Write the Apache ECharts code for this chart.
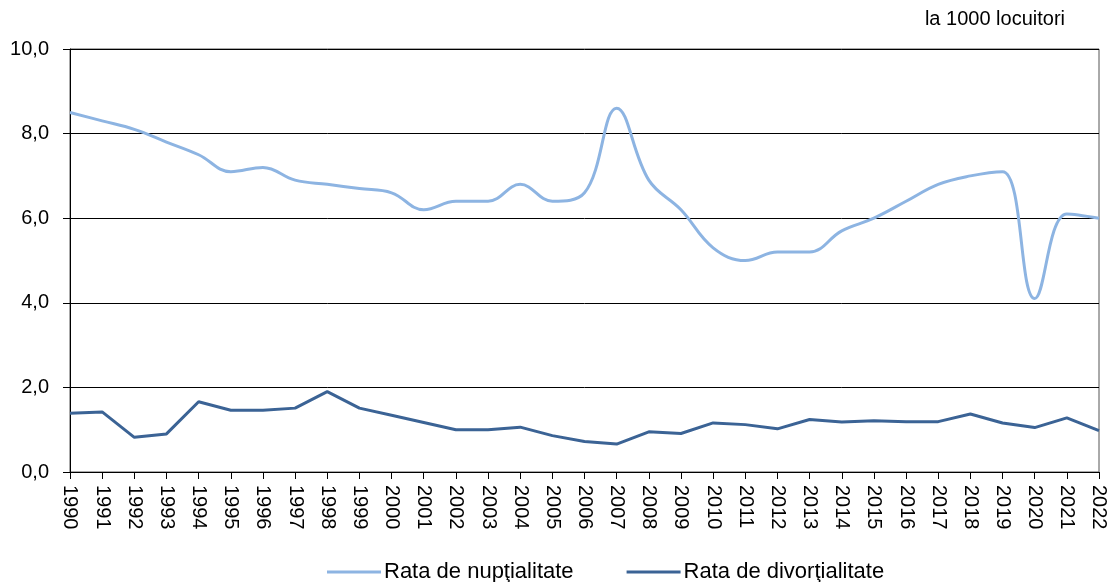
<!DOCTYPE html>
<html>
  <head>
    <meta charset="utf-8" />
    <title>Nuptialitate si divortialitate</title>
    <script src="https://cdn.jsdelivr.net/npm/echarts@6/dist/echarts.min.js"></script>
    <style>
      html, body { margin: 0; padding: 0; background: #fff; }
    </style>
  </head>
  <body>
    <div id="main" style="width: 1111px; height: 582px"></div>
    <script type="text/javascript">
      // anii de pe axa orizontala
      var years = [
        "1990", "1991", "1992", "1993", "1994", "1995", "1996", "1997", "1998", "1999",
        "2000", "2001", "2002", "2003", "2004", "2005", "2006", "2007", "2008", "2009",
        "2010", "2011", "2012", "2013", "2014", "2015", "2016", "2017", "2018", "2019",
        "2020", "2021", "2022"
      ];

      // la 1000 locuitori
      var nuptialitate = [
        8.5, 8.3, 8.1, 7.8, 7.5, 7.1, 7.2, 6.9, 6.8, 6.7,
        6.6, 6.2, 6.4, 6.4, 6.8, 6.4, 6.6, 8.6, 6.9, 6.2,
        5.3, 5.0, 5.2, 5.2, 5.7, 6.0, 6.4, 6.8, 7.0, 7.1,
        4.1, 6.1, 6.0
      ];

      var divortialitate = [
        1.39, 1.42, 0.82, 0.90, 1.66, 1.46, 1.46, 1.51, 1.90, 1.51,
        1.34, 1.17, 1.00, 1.00, 1.06, 0.86, 0.72, 0.66, 0.95, 0.91,
        1.16, 1.12, 1.02, 1.24, 1.18, 1.21, 1.19, 1.19, 1.37, 1.16,
        1.05, 1.28, 0.98
      ];

      var seriesNames = ["Rata de nupţialitate", "Rata de divorţialitate"];

      var font = "Liberation Sans";

      var myChart = echarts.init(document.getElementById("main"), null, {
        renderer: "canvas"
      });

      var option = {
        animation: false,
        textStyle: { fontFamily: font },
        graphic: [
          {
            type: "text",
            right: 46,
            top: 9,
            style: {
              text: "la 1000 locuitori",
              font: "20px " + font,
              fill: "#000"
            }
          }
        ],
        legend: {
          top: 561,
          left: 327,
          padding: 0,
          itemWidth: 54,
          itemHeight: 3,
          itemGap: 53,
          icon: "rect",
          textStyle: { fontSize: 22, color: "#000", fontFamily: font, padding: [0, 0, 0, -2] },
          data: seriesNames
        },
        grid: {
          left: 70,
          right: 12,
          top: 49,
          bottom: 110,
          show: true,
          borderColor: "#555",
          borderWidth: 1
        },
        xAxis: {
          type: "category",
          data: years,
          boundaryGap: false,
          axisLine: { lineStyle: { color: "#000", width: 1 } },
          axisTick: { alignWithLabel: true, length: 7, lineStyle: { color: "#000" } },
          axisLabel: {
            rotate: -90,
            interval: 0,
            margin: 13,
            color: "#000",
            fontSize: 20,
            fontFamily: font
          }
        },
        yAxis: {
          type: "value",
          min: 0,
          max: 10,
          interval: 2,
          axisLine: { show: true, lineStyle: { color: "#000", width: 1 } },
          axisTick: { show: true, length: 7, lineStyle: { color: "#000" } },
          splitLine: { lineStyle: { color: "#000", width: 1 } },
          axisLabel: {
            margin: 21,
            color: "#000",
            fontSize: 20,
            fontFamily: font,
            formatter: function (v) {
              return v.toFixed(1).replace(".", ",");
            }
          }
        },
        series: [
          {
            name: seriesNames[0],
            type: "line",
            data: nuptialitate,
            smooth: 0.4,
            symbol: "none",
            color: "#8db4e2",
            lineStyle: { width: 3, color: "#8db4e2" }
          },
          {
            name: seriesNames[1],
            type: "line",
            data: divortialitate,
            symbol: "none",
            color: "#3b6395",
            lineStyle: { width: 3, color: "#3b6395" }
          }
        ]
      };

      myChart.setOption(option);
    </script>
  </body>
</html>
